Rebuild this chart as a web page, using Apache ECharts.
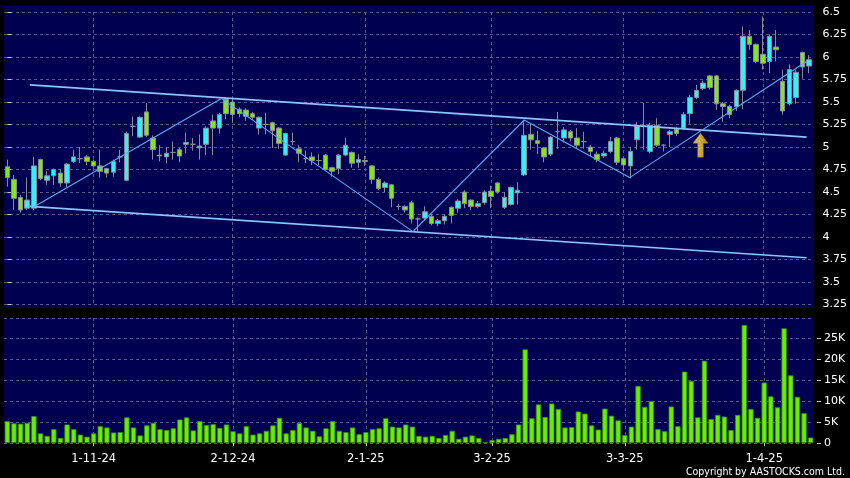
<!DOCTYPE html>
<html><head><meta charset="utf-8">
<script src="https://cdn.jsdelivr.net/npm/echarts@6/dist/echarts.min.js"></script>
<style>html,body{margin:0;padding:0;background:#000;}#c{width:850px;height:478px;}</style>
</head><body><div id="c"></div>
<script>
const dates = [
'15-10-24','16-10-24','17-10-24','18-10-24','21-10-24','22-10-24','23-10-24','24-10-24','25-10-24','28-10-24','29-10-24','30-10-24','31-10-24',
'1-11-24','4-11-24','5-11-24','6-11-24','7-11-24','8-11-24','11-11-24','12-11-24','13-11-24','14-11-24','15-11-24','18-11-24','19-11-24','20-11-24','21-11-24','22-11-24','25-11-24','26-11-24','27-11-24','28-11-24','29-11-24',
'2-12-24','3-12-24','4-12-24','5-12-24','6-12-24','9-12-24','10-12-24','11-12-24','12-12-24','13-12-24','16-12-24','17-12-24','18-12-24','19-12-24','20-12-24','23-12-24','24-12-24','27-12-24','30-12-24','31-12-24',
'2-1-25','3-1-25','6-1-25','7-1-25','8-1-25','9-1-25','10-1-25','13-1-25','14-1-25','15-1-25','16-1-25','17-1-25','20-1-25','21-1-25','22-1-25','23-1-25','24-1-25','27-1-25','28-1-25',
'3-2-25','4-2-25','5-2-25','6-2-25','7-2-25','10-2-25','11-2-25','12-2-25','13-2-25','14-2-25','17-2-25','18-2-25','19-2-25','20-2-25','21-2-25','24-2-25','25-2-25','26-2-25','27-2-25','28-2-25',
'3-3-25','4-3-25','5-3-25','6-3-25','7-3-25','10-3-25','11-3-25','12-3-25','13-3-25','14-3-25','17-3-25','18-3-25','19-3-25','20-3-25','21-3-25','24-3-25','25-3-25','26-3-25','27-3-25','28-3-25','31-3-25',
'1-4-25','2-4-25','3-4-25','7-4-25','8-4-25','9-4-25','10-4-25','11-4-25'];
const tickDates = ['1-11-24','2-12-24','2-1-25','3-2-25','3-3-25','1-4-25'];

const opens = [4.78,4.64,4.44,4.32,4.32,4.86,4.63,4.68,4.71,4.60,4.84,4.87,4.89,4.84,4.79,4.76,4.72,4.89,4.63,5.23,
5.11,5.39,5.10,4.91,4.89,4.94,4.97,5.03,5.03,4.99,5.03,5.29,5.21,5.53,5.50,5.42,5.41,5.37,5.21,5.25,
5.27,5.21,4.91,5.06,4.98,4.87,4.89,4.85,4.91,4.77,4.76,4.91,4.94,4.83,4.84,4.79,4.64,4.55,4.58,4.34,
4.34,4.38,4.20,4.21,4.23,4.15,4.18,4.33,4.32,4.50,4.41,4.34,4.38,4.51,4.60,4.33,4.36,4.49,4.69,5.14,
5.07,4.99,4.92,5.17,5.10,5.17,5.10,5.06,5.00,4.92,4.90,4.95,5.10,4.87,4.79,5.08,5.23,4.95,5.24,5.02,
5.14,5.20,5.21,5.37,5.55,5.65,5.79,5.79,5.48,5.45,5.45,5.63,6.23,6.14,6.03,5.95,6.11,5.73,5.48,5.55,
6.05,5.90];
const closes = [4.66,4.43,4.30,4.41,4.79,4.65,4.68,4.75,4.60,4.81,4.89,4.87,4.84,4.79,4.73,4.71,4.84,4.89,5.15,5.23,
5.33,5.13,4.97,4.90,4.93,4.94,4.90,5.05,5.03,5.01,5.21,5.21,5.36,5.37,5.36,5.37,5.34,5.33,5.33,5.25,
5.18,5.04,5.15,5.06,4.93,4.87,4.85,4.85,4.75,4.73,4.91,5.02,4.82,4.86,4.85,4.64,4.54,4.60,4.43,4.34,
4.30,4.20,4.20,4.28,4.15,4.18,4.23,4.24,4.40,4.37,4.34,4.37,4.50,4.45,4.50,4.44,4.55,4.52,5.13,5.08,
5.04,4.89,5.11,5.17,5.19,5.10,5.02,5.06,4.95,4.86,4.93,5.06,4.83,4.80,4.95,5.23,5.23,5.24,5.02,5.02,
5.17,5.15,5.36,5.55,5.63,5.71,5.66,5.48,5.45,5.36,5.63,6.23,6.14,5.95,5.93,6.23,6.08,5.40,5.86,5.83,
5.89,5.97];
const lows = [4.56,4.30,4.27,4.30,4.30,4.63,4.58,4.58,4.56,4.55,4.82,4.82,4.80,4.77,4.66,4.66,4.67,4.83,4.62,5.12,
5.10,5.11,4.86,4.84,4.82,4.86,4.83,4.93,4.96,4.86,4.91,4.91,5.15,5.31,5.27,5.33,5.29,5.30,5.14,5.14,
4.99,4.98,4.90,5.02,4.83,4.82,4.80,4.80,4.74,4.67,4.70,4.90,4.77,4.77,4.79,4.59,4.52,4.50,4.33,4.30,
4.27,4.15,4.06,4.18,4.13,4.12,4.14,4.15,4.27,4.32,4.30,4.32,4.36,4.32,4.48,4.31,4.35,4.36,4.68,4.97,
4.92,4.83,4.90,4.98,5.05,5.06,4.99,4.98,4.90,4.83,4.88,4.93,4.80,4.73,4.65,4.97,4.97,4.93,5.00,4.95,
5.00,5.12,5.19,5.26,5.53,5.63,5.64,5.41,5.28,5.32,5.40,5.42,6.08,5.93,5.86,5.82,5.95,5.36,5.46,5.48,
5.76,5.82];
const highs = [4.86,4.69,4.47,4.66,4.89,4.87,4.73,4.76,4.75,4.82,4.97,5.00,4.91,4.86,4.97,4.77,4.86,4.97,5.17,5.34,
5.34,5.49,5.13,5.02,5.00,5.06,4.99,5.16,5.10,5.14,5.23,5.36,5.38,5.55,5.54,5.44,5.43,5.39,5.34,5.38,
5.28,5.22,5.16,5.16,5.02,4.96,4.94,4.92,4.92,4.78,4.92,5.10,4.95,4.92,4.90,4.80,4.66,4.62,4.59,4.37,
4.35,4.40,4.22,4.34,4.25,4.20,4.25,4.34,4.42,4.52,4.42,4.40,4.52,4.57,4.61,4.50,4.56,4.61,5.30,5.26,
5.18,5.00,5.12,5.39,5.22,5.19,5.21,5.17,5.02,4.95,4.96,5.11,5.11,4.88,5.00,5.28,5.49,5.27,5.32,5.03,
5.19,5.22,5.39,5.58,5.69,5.74,5.80,5.80,5.50,5.47,5.64,6.34,6.30,6.15,6.45,6.25,6.30,5.86,5.92,5.86,
6.06,6.02];
const volumes = [5200,4700,4600,4800,6400,2300,1700,3300,1200,4400,3300,2000,1500,2300,4000,3700,2500,2600,6100,3700,
1800,4200,4800,3300,3100,3500,5600,6100,3000,5200,4300,4500,3600,4400,2800,2300,4000,2000,2300,2900,
4200,6000,2300,3100,4800,3700,2900,1600,3500,5200,2900,2600,3700,2100,2600,3300,3500,5900,3900,3700,
4400,3900,1700,1500,1700,1200,1900,2900,1000,1500,1800,1200,200,700,1000,1200,2100,4400,22300,5900,
9200,6200,9400,8100,3700,3800,7500,7000,4200,3200,8200,6500,5400,1900,3900,13600,8600,10000,3300,2800,
8700,4000,17000,14800,6100,19600,5700,6700,6300,3100,6700,28100,8100,6000,14400,11100,8500,27300,16100,11000,
7100,1300];

// annotation lines (category index, price)
const upperChannel = [[3.4,5.69],[120.6,5.11]];
const lowerChannel = [[3.4,4.34],[120.6,3.77]];
const zigzag = [[3.9,4.33],[32.3,5.54],[61.2,4.06],[78.0,5.30],[93.9,4.66],[120.6,5.95]];
const arrowPoint = [[104.6,5.02]];

const candles = dates.map((d,i)=>[opens[i],closes[i],lows[i],highs[i]]);
const tickSet = new Set(tickDates);
const isTick = (idx, val) => tickSet.has(val);
const gridColor = '#5a5a8c';
const navy = '#000050';

const chart = echarts.init(document.getElementById('c'), null, {width:850, height:478});
chart.setOption({
  backgroundColor:'#000',
  animation:false,
  graphic:[
    {type:'rect', z:-100, shape:{x:4,y:6,width:810,height:302}, style:{fill:navy}},
    {type:'rect', z:-100, shape:{x:4,y:318,width:810,height:125}, style:{fill:navy}},
    {type:'text', z:10, x:845, y:472, style:{text:'Copyright by AASTOCKS.com Ltd.', fill:'#ffffff', font:'10.5px "DejaVu Sans Condensed", "DejaVu Sans"', textAlign:'right', textVerticalAlign:'middle'}}
  ],
  grid:[
    {left:4, right:36, top:12, height:292.5},
    {left:4, right:36, top:318, height:125}
  ],
  xAxis:[
    {type:'category', gridIndex:0, data:dates, axisLine:{show:false}, axisTick:{show:false}, axisLabel:{show:false},
     splitLine:{show:true, interval:isTick, alignWithLabel:true, lineStyle:{color:gridColor, type:[3,3], width:1}}},
    {type:'value', gridIndex:0, min:-0.5, max:dates.length-0.5, show:false},
    {type:'category', gridIndex:1, data:dates, offset:3, axisLine:{show:false},
     axisTick:{show:true, interval:isTick, alignWithLabel:true, length:3, lineStyle:{color:'#cccccc'}},
     axisLabel:{interval:isTick, color:'#ffffff', fontSize:11.5, fontFamily:'DejaVu Sans', margin:7},
     splitLine:{show:true, interval:isTick, alignWithLabel:true, lineStyle:{color:gridColor, type:[3,3], width:1}}}
  ],
  yAxis:[
    {type:'value', gridIndex:0, position:'right', min:3.25, max:6.5, interval:0.25, offset:3,
     axisLine:{show:false}, axisTick:{show:true, length:4, lineStyle:{color:'#cccccc'}},
     axisLabel:{color:'#ffffff', fontSize:11, fontFamily:'DejaVu Sans', margin:7},
     splitLine:{show:true, lineStyle:{color:gridColor, type:[3,3], width:1}}},
    {type:'value', gridIndex:1, position:'right', min:0, max:29762, interval:5000, offset:3,
     axisLine:{show:false}, axisTick:{show:true, length:4, lineStyle:{color:'#cccccc'}},
     axisLabel:{color:'#ffffff', fontSize:11, fontFamily:'DejaVu Sans', margin:7, showMaxLabel:false,
       formatter:v=> v===0 ? '0' : (v%5000===0 ? (v/1000)+'K' : '')},
     splitLine:{show:true, lineStyle:{color:gridColor, type:[3,3], width:1}}}
  ],
  series:[
    {type:'candlestick', xAxisIndex:0, yAxisIndex:0, data:candles, barWidth:5, z:3,
     itemStyle:{color:'#36eef6', color0:'#7fe81c', borderColor:'#8a8a96', borderColor0:'#8a8a96', borderColorDoji:'#8a8a96', borderWidth:1}},
    {type:'line', xAxisIndex:1, yAxisIndex:0, data:upperChannel, symbol:'none', z:5,
     lineStyle:{color:'#8cc4ff', width:1.6}},
    {type:'line', xAxisIndex:1, yAxisIndex:0, data:lowerChannel, symbol:'none', z:5,
     lineStyle:{color:'#8cc4ff', width:1.6}},
    {type:'line', xAxisIndex:1, yAxisIndex:0, data:zigzag, symbol:'none', z:5,
     lineStyle:{color:'#5aaaf5', width:1.1}},
    {type:'scatter', xAxisIndex:1, yAxisIndex:0, data:arrowPoint, z:6,
     symbol:'path://M8,0 L16,10 L11,10 L11,24 L5,24 L5,10 L0,10 Z', symbolSize:[15,24],
     itemStyle:{color:new echarts.graphic.LinearGradient(0,0,1,0,[{offset:0,color:'#fff4a8'},{offset:0.5,color:'#ffd83a'},{offset:1,color:'#e0a000'}]), borderColor:'#b07800', borderWidth:0.6}},
    {type:'bar', xAxisIndex:2, yAxisIndex:1, data:volumes, barWidth:'80%',
     itemStyle:{color:'#66f000', borderColor:'#3c8a00', borderWidth:0.8}}
  ]
});
</script></body></html>
